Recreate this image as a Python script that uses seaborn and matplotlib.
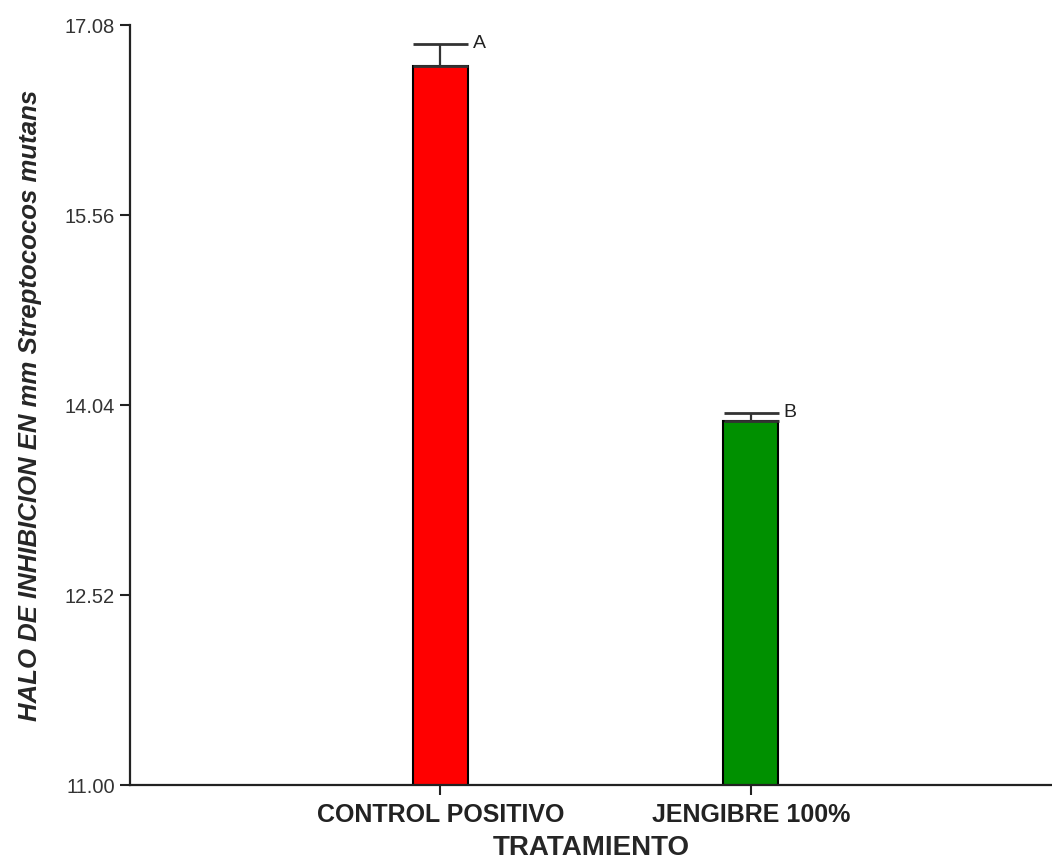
import matplotlib
matplotlib.use("Agg")
import matplotlib.pyplot as plt
import numpy as np
import pandas as pd
import seaborn as sns

# -- Data ----------------------------------------------------------------------
tratamientos = ["CONTROL POSITIVO", "JENGIBRE 100%"]
halo_mm = [16.75, 13.91]
error_est = [0.18, 0.07]
letras = ["A", "B"]
colores = ["#FF0000", "#009000"]
y_ticks = [11.00, 12.52, 14.04, 15.56, 17.08]

df = pd.DataFrame({"tratamiento": tratamientos, "halo": halo_mm})

# -- Plot ----------------------------------------------------------------------
sns.set_style("ticks")
plt.rcParams["font.family"] = ["Liberation Sans", "DejaVu Sans"]

fig = plt.figure(figsize=(10.52, 8.64), dpi=100)
ax = fig.add_axes([0.1236, 0.0914, 0.8764, 0.8796])

sns.barplot(data=df, x="tratamiento", y="halo", hue="tratamiento",
            palette=colores, saturation=1, width=0.177, errorbar=None,
            legend=False, edgecolor="black", linewidth=1.5, ax=ax)

x = np.arange(len(tratamientos))
ax.errorbar(x, halo_mm, yerr=[np.zeros(len(error_est)), error_est],
            fmt="none", ecolor="#333333", elinewidth=1.6,
            capsize=19.8, capthick=2.0, zorder=1)

for xi, val, err, letra in zip(x, halo_mm, error_est, letras):
    ax.text(xi + 0.106, val + err, letra, ha="left", va="center",
            fontsize=14, color="#222222")

ax.set_xlim(-1.0, 1.97)
ax.set_ylim(11.0, 17.08)
ax.set_yticks(y_ticks)
ax.set_yticklabels([f"{t:.2f}" for t in y_ticks], fontsize=14.5, color="#333333")
ax.set_xticks(x)
ax.set_xticklabels(tratamientos, fontsize=18, fontweight="bold", color="#111111")

ax.set_xlabel("TRATAMIENTO", fontsize=20, fontweight="bold", labelpad=6)
ax.set_ylabel("HALO DE INHIBICION EN mm Streptococos mutans", fontsize=18.5,
              fontweight="bold", fontstyle="italic", labelpad=16)

for side in ["top", "right"]:
    ax.spines[side].set_visible(False)
for side in ["left", "bottom"]:
    ax.spines[side].set_linewidth(1.6)
    ax.spines[side].set_color("#222222")
ax.tick_params(axis="both", direction="out", length=7, width=1.5, colors="#222222")
ax.tick_params(axis="y", labelcolor="#333333", pad=4)
ax.tick_params(axis="x", pad=6)

fig.savefig("out.png", dpi=100)
